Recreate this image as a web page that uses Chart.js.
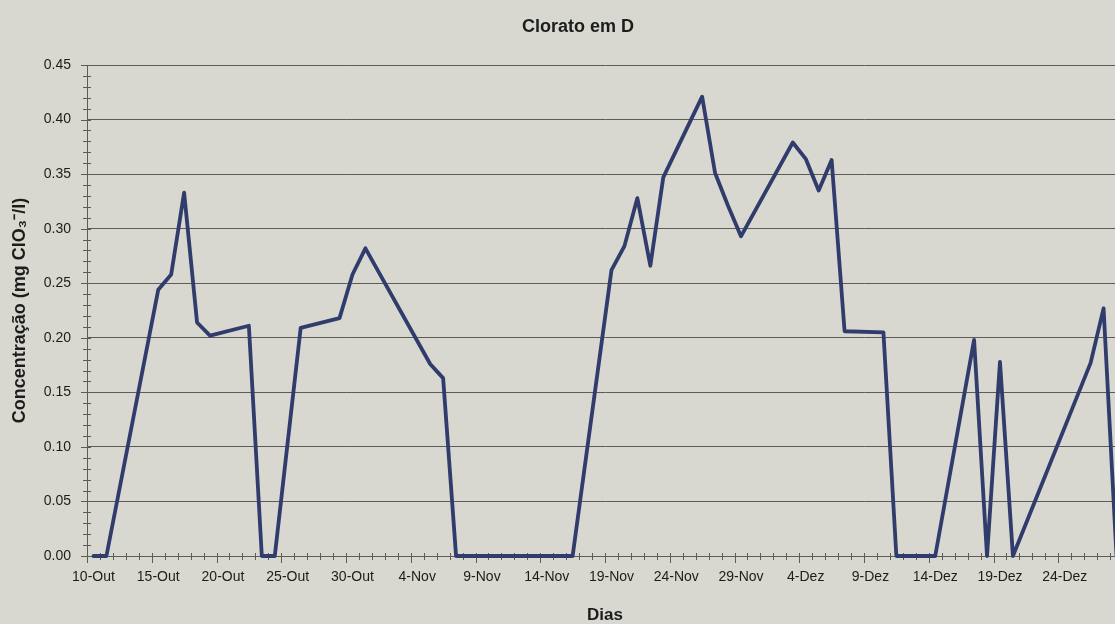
<!DOCTYPE html>
<html lang="pt">
<head>
<meta charset="utf-8">
<title>Clorato em D</title>
<script src="https://cdn.jsdelivr.net/npm/chart.js@4/dist/chart.umd.min.js"></script>
<style>
  html, body { margin: 0; padding: 0; overflow: hidden; background: #d8d8d0; }
  canvas { display: block; }
</style>
</head>
<body>
<canvas id="cloratoChart" width="1156" height="624"></canvas>
<script>
// Datas de amostragem e concentrações de clorato medidas (mg ClO3-/l)
const sampleDates = [
    '10-Out', '11-Out', '15-Out', '16-Out', '17-Out', '18-Out', '19-Out', '22-Out',
    '23-Out', '24-Out', '26-Out', '29-Out', '30-Out', '31-Out', '5-Nov', '6-Nov',
    '7-Nov', '16-Nov', '19-Nov', '20-Nov', '21-Nov', '22-Nov', '23-Nov', '26-Nov',
    '27-Nov', '28-Nov', '29-Nov', '3-Dez', '4-Dez', '5-Dez', '6-Dez', '7-Dez',
    '10-Dez', '11-Dez', '14-Dez', '17-Dez', '18-Dez', '19-Dez', '20-Dez', '26-Dez',
    '27-Dez', '28-Dez'
];
const chlorate = [
    0.000, 0.000, 0.244, 0.258, 0.333, 0.214, 0.202, 0.211,
    0.000, 0.000, 0.209, 0.218, 0.258, 0.282, 0.176, 0.163,
    0.000, 0.000, 0.262, 0.284, 0.328, 0.266, 0.347, 0.421,
    0.351, 0.321, 0.293, 0.379, 0.364, 0.335, 0.363, 0.206,
    0.205, 0.000, 0.000, 0.198, 0.000, 0.178, 0.000, 0.177,
    0.227, 0.000
];

// Rótulos do eixo dos dias (de 5 em 5) e do eixo das concentrações
const dayTickLabels = ['10-Out', '15-Out', '20-Out', '25-Out', '30-Out', '4-Nov', '9-Nov',
    '14-Nov', '19-Nov', '24-Nov', '29-Nov', '4-Dez', '9-Dez', '14-Dez', '19-Dez', '24-Dez'];
const concTicks = [0, 0.05, 0.10, 0.15, 0.20, 0.25, 0.30, 0.35, 0.40, 0.45];

// Desvio de cada mês em relação a 10-Out
const monthOffset = { Out: -10, Nov: 21, Dez: 51 };

function dayIndex(label) {
    const [d, m] = label.split('-');
    return parseInt(d, 10) + monthOffset[m];
}

function dayLabel(idx) {
    const found = dayTickLabels.find(l => dayIndex(l) === idx);
    return found || '';
}

const axisColor = '#5c5c57';
const textColor = '#1c1c1c';

Chart.defaults.font.family = "'Liberation Sans', Arial, sans-serif";
Chart.defaults.color = textColor;

// Fundo, título e marcas de escala cruzadas (estilo Excel)
const excelLook = {
    id: 'excelLook',
    beforeDraw(chart) {
        const { ctx, width, height } = chart;
        ctx.save();
        ctx.fillStyle = '#d8d8d0';
        ctx.fillRect(0, 0, width, height);
        ctx.restore();
    },
    beforeDatasetsDraw(chart) {
        const { ctx, chartArea, scales } = chart;
        const x = scales.x, y = scales.y;
        ctx.save();
        ctx.strokeStyle = axisColor;
        ctx.lineWidth = 1;
        ctx.beginPath();
        // marcas diárias no eixo horizontal
        for (let k = Math.ceil(x.min - 0.5) + 0.5; k <= x.max; k += 1) {
            const px = Math.round(x.getPixelForValue(k)) + 0.5;
            const major = dayLabel(Math.round(k + 0.5)) !== '';
            ctx.moveTo(px, chartArea.bottom - 3);
            ctx.lineTo(px, chartArea.bottom + (major ? 7 : 4));
        }
        // marcas de 0.01 no eixo vertical
        for (let i = 0; i <= 45; i++) {
            const py = Math.round(y.getPixelForValue(i / 100)) + 0.5;
            const major = i % 5 === 0;
            ctx.moveTo(chartArea.left - (major ? 6 : 4), py);
            ctx.lineTo(chartArea.left + 4, py);
        }
        ctx.stroke();

        ctx.fillStyle = textColor;
        ctx.font = "bold 18px 'Liberation Sans', Arial, sans-serif";
        ctx.textAlign = 'center';
        ctx.textBaseline = 'middle';
        ctx.fillText('Clorato em D', chart.width / 2, 27);
        ctx.restore();
    }
};

new Chart(document.getElementById('cloratoChart'), {
    type: 'line',
    data: {
        datasets: [{
            label: 'Clorato em D',
            data: sampleDates.map((d, i) => ({ x: dayIndex(d), y: chlorate[i] })),
            borderColor: '#2f3c6c',
            borderWidth: 3.8,
            borderJoinStyle: 'round',
            borderCapStyle: 'round',
            pointRadius: 0,
            tension: 0,
            clip: false
        }]
    },
    options: {
        responsive: false,
        devicePixelRatio: 1,
        animation: false,
        layout: { padding: { top: 65, right: 33, bottom: 0, left: 0 } },
        plugins: {
            legend: { display: false },
            tooltip: { enabled: false }
        },
        scales: {
            x: {
                type: 'linear',
                min: -0.5,
                max: 79.5,
                afterBuildTicks: (scale) => {
                    scale.ticks = dayTickLabels.map(l => ({ value: dayIndex(l) }));
                },
                afterFit: (scale) => { scale.height = 68; },
                ticks: {
                    autoSkip: false,
                    maxRotation: 0,
                    padding: 13,
                    font: { size: 14 },
                    callback: (v) => dayLabel(v)
                },
                grid: { drawOnChartArea: false, drawTicks: false },
                border: { color: axisColor, width: 1 },
                title: {
                    display: true,
                    text: 'Dias',
                    font: { size: 17, weight: 'bold', lineHeight: 1 },
                    padding: { top: 0, bottom: 0 }
                }
            },
            y: {
                min: 0,
                max: 0.45,
                afterBuildTicks: (scale) => {
                    scale.ticks = concTicks.map(v => ({ value: v }));
                },
                afterFit: (scale) => { scale.width = 87; },
                ticks: {
                    padding: 16,
                    font: { size: 14 },
                    callback: (v) => v.toFixed(2)
                },
                grid: { color: axisColor, lineWidth: 1, drawTicks: false },
                border: { color: axisColor, width: 1 },
                title: {
                    display: true,
                    text: 'Concentração (mg ClO₃⁻/l)',
                    font: { size: 18, weight: 'bold', lineHeight: 1 },
                    padding: { top: 11, bottom: 0 }
                }
            }
        }
    },
    plugins: [excelLook]
});
</script>
</body>
</html>
